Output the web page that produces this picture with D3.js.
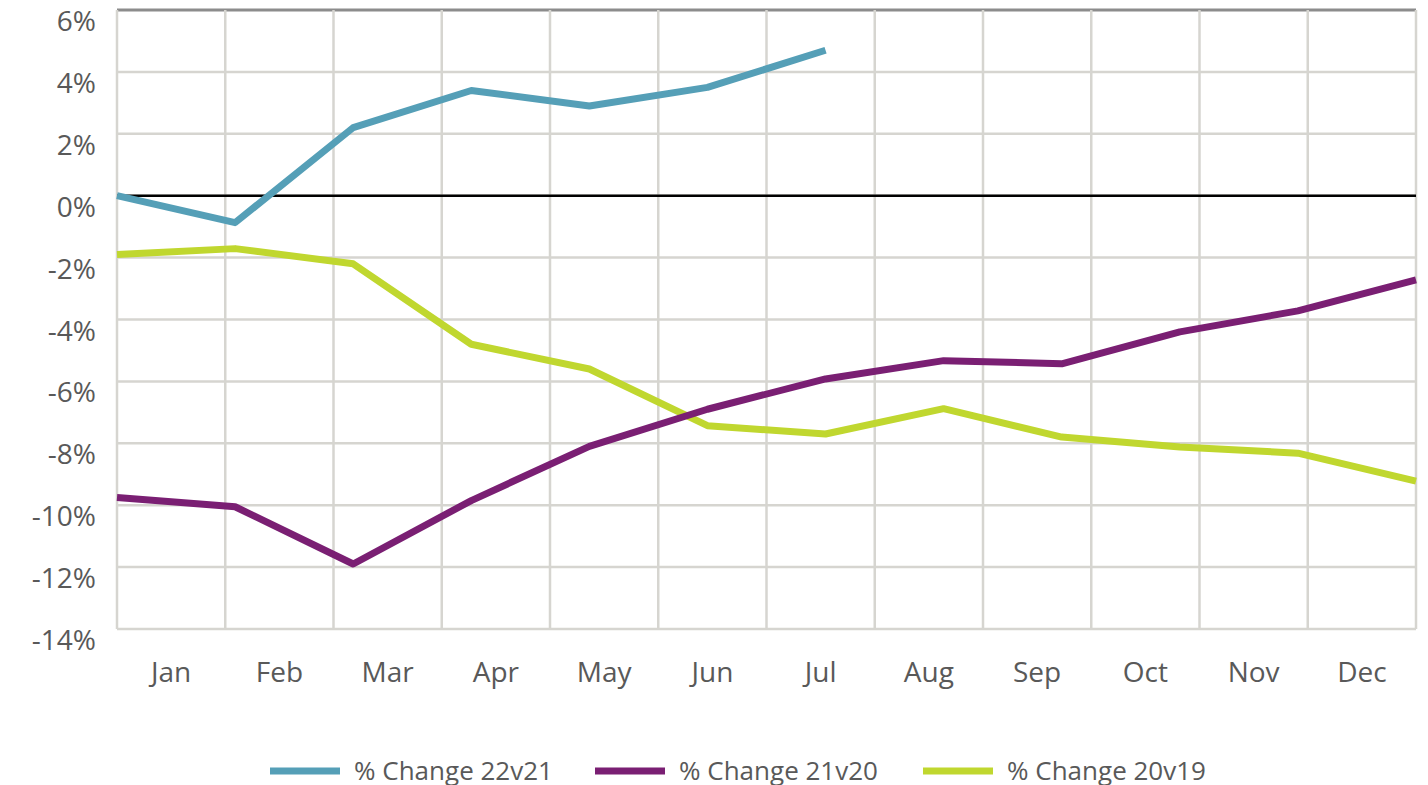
<!DOCTYPE html>
<html>
<head>
<meta charset="utf-8">
<script src="https://cdn.jsdelivr.net/npm/d3@7"></script>
<style>
  body { margin: 0; background: #fff; }
  text { font-family: "Open Sans", sans-serif; fill: #595959; }
</style>
</head>
<body>
<svg id="chart" width="1428" height="785"></svg>
<script>
var months = ["Jan", "Feb", "Mar", "Apr", "May", "Jun", "Jul", "Aug", "Sep", "Oct", "Nov", "Dec"];
var yTicks = [6, 4, 2, 0, -2, -4, -6, -8, -10, -12, -14];

var change22v21 = [0.0, -0.87, 2.2, 3.4, 2.9, 3.5, 4.7];
var change21v20 = [-9.75, -10.05, -11.9, -9.85, -8.1, -6.9, -5.92, -5.33, -5.43, -4.4, -3.72, -2.72];
var change20v19 = [-1.9, -1.71, -2.2, -4.8, -5.6, -7.43, -7.7, -6.88, -7.8, -8.12, -8.32, -9.22];

var seriesNames = ["% Change 22v21", "% Change 21v20", "% Change 20v19"];
var seriesColors = ["#559fb7", "#7a1f73", "#c0d72f"];

var svg = d3.select("#chart");
var plotLeft = 117, plotRight = 1416, plotTop = 10, plotBottom = 629;

var x = d3.scaleBand().domain(months).range([plotLeft, plotRight]);
// lines span edge to edge (Excel quirk)
var xp = d3.scalePoint().domain(months).range([plotLeft, plotRight]);
var y = d3.scaleLinear().domain([-14, 6]).range([plotBottom, plotTop]);

// horizontal grid
svg.append("g").selectAll("line").data(yTicks).enter().append("line")
    .attr("x1", plotLeft).attr("x2", plotRight)
    .attr("y1", function (d) { return y(d); })
    .attr("y2", function (d) { return y(d); })
    .attr("stroke", function (d) { return d == 6 ? "#8c8c8c" : "#d6d5d0"; })
    .attr("stroke-width", function (d) { return d == 6 ? 3 : 2.5; });

// vertical grid
var vx = months.map(function (m) { return x(m); }).concat([plotRight]);
svg.append("g").selectAll("line").data(vx).enter().append("line")
    .attr("x1", function (d) { return d; }).attr("x2", function (d) { return d; })
    .attr("y1", plotTop).attr("y2", plotBottom)
    .attr("stroke", "#d6d5d0").attr("stroke-width", 2.5);

// zero line
svg.append("line")
    .attr("x1", plotLeft).attr("x2", plotRight)
    .attr("y1", y(0)).attr("y2", y(0))
    .attr("stroke", "#000").attr("stroke-width", 2.5);

// y labels (sit a bit below their gridline, like the original)
svg.append("g").selectAll("text").data(yTicks).enter().append("text")
    .attr("x", 96)
    .attr("y", function (d) { return y(d) + 11; })
    .attr("dy", "0.36em")
    .attr("text-anchor", "end")
    .style("font-size", "28px")
    .text(function (d) { return d + "%"; });

// x labels
svg.append("g").selectAll("text").data(months).enter().append("text")
    .attr("x", function (d) { return x(d) + x.bandwidth() / 2; })
    .attr("y", 682)
    .attr("text-anchor", "middle")
    .style("font-size", "28px")
    .text(function (d) { return d; });

var line = d3.line()
    .x(function (d, i) { return xp(months[i]); })
    .y(function (d) { return y(d); });

var allSeries = [change22v21, change21v20, change20v19];
// draw 20v19 first, then 21v20, then 22v21 on top
[2, 1, 0].forEach(function (k) {
    svg.append("path")
        .datum(allSeries[k])
        .attr("d", line)
        .attr("fill", "none")
        .attr("stroke", seriesColors[k])
        .attr("stroke-width", 7)
        .attr("stroke-linejoin", "round");
});

// legend
var legendX = [270, 595, 923];
var legend = svg.append("g").selectAll("g").data(seriesNames).enter().append("g")
    .attr("transform", function (d, i) { return "translate(" + legendX[i] + ",771)"; });
legend.append("line")
    .attr("x1", 0).attr("x2", 70)
    .attr("stroke", function (d, i) { return seriesColors[i]; })
    .attr("stroke-width", 7);
legend.append("text")
    .attr("x", 84)
    .attr("dy", "0.34em")
    .attr("textLength", 199)
    .attr("lengthAdjust", "spacingAndGlyphs")
    .style("font-size", "25px")
    .text(function (d) { return d; });
</script>
</body>
</html>
